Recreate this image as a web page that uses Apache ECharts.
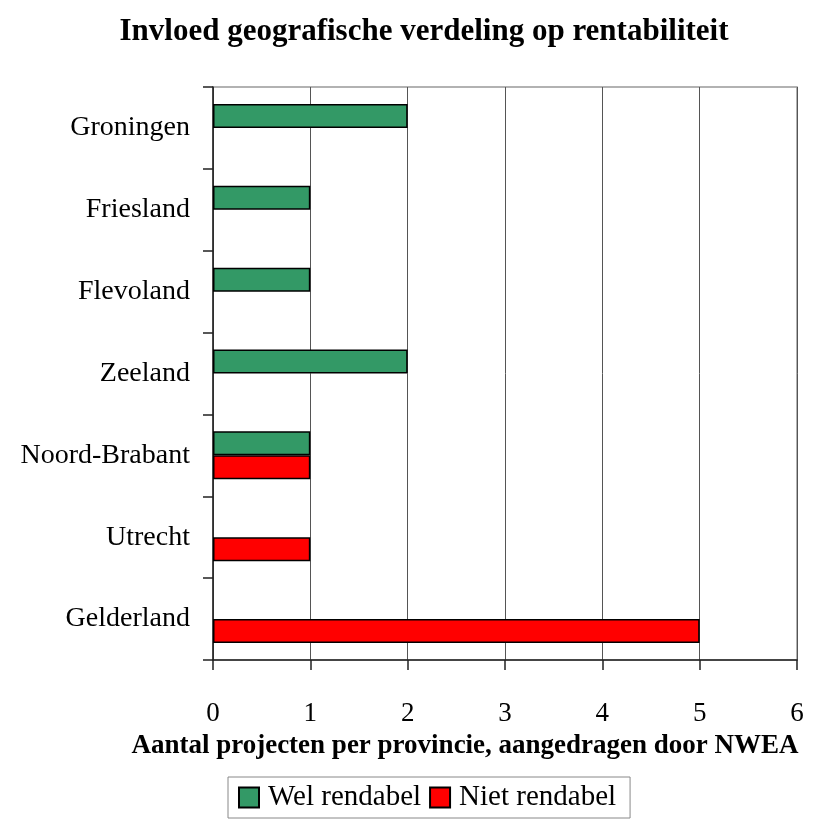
<!DOCTYPE html>
<html>
<head>
<meta charset="utf-8">
<script src="https://cdn.jsdelivr.net/npm/echarts@6/dist/echarts.min.js"></script>
<style>
  html, body { margin: 0; padding: 0; background: #fff; }
  #chart { width: 827px; height: 821px; }
</style>
</head>
<body>
<div id="chart"></div>
<script>
// Provinces, listed from the bottom of the chart upwards
var provinces = ['Gelderland', 'Utrecht', 'Noord-Brabant', 'Zeeland', 'Flevoland', 'Friesland', 'Groningen'];
// Number of projects per province
var welRendabel = [0, 0, 1, 2, 1, 1, 2];
var nietRendabel = [5, 1, 1, 0, 0, 0, 0];
var xTicks = [0, 1, 2, 3, 4, 5, 6];

var serif = '"Liberation Serif", "Times New Roman", serif';
var chart = echarts.init(document.getElementById('chart'));

var barStyle = function (color) {
  return { color: color, borderColor: '#000', borderWidth: 1.5 };
};
// Provinces without projects of a kind get no bar at all
var asBars = function (values) {
  return values.map(function (v) { return v === 0 ? '-' : v; });
};

chart.setOption({
  animation: false,
  backgroundColor: '#fff',
  title: {
    text: 'Invloed geografische verdeling op rentabiliteit',
    left: 419,
    textAlign: 'center',
    top: 11,
    textStyle: { fontFamily: serif, fontWeight: 'bold', fontSize: 31, color: '#000' }
  },
  grid: {
    left: 213, right: 30, top: 87, bottom: 161,
    outerBoundsMode: 'none',
    containLabel: false,
    show: true, borderColor: '#999', borderWidth: 1.5, backgroundColor: 'transparent'
  },
  legend: {
    bottom: 3,
    left: 228,
    itemWidth: 20,
    itemHeight: 20,
    itemGap: 8,
    padding: [6, 14, 6, 10],
    borderColor: '#888',
    borderWidth: 1,
    icon: 'rect',
    textStyle: { fontFamily: serif, fontSize: 29, color: '#000', padding: [0, 0, 0, 4] },
    data: ['Wel rendabel', 'Niet rendabel']
  },
  xAxis: {
    type: 'value',
    min: xTicks[0],
    max: xTicks[xTicks.length - 1],
    interval: 1,
    name: 'Aantal projecten per provincie, aangedragen door NWEA',
    nameLocation: 'middle',
    nameGap: 73,
    nameTextStyle: { fontFamily: serif, fontWeight: 'bold', fontSize: 27, color: '#000', padding: [0, 80, 0, 0] },
    axisLine: { show: true, lineStyle: { color: '#222', width: 1.5 } },
    axisTick: { show: true, length: 10, lineStyle: { color: '#222', width: 1.5 } },
    axisLabel: { margin: 40, fontFamily: serif, fontSize: 27, color: '#000' },
    splitLine: { show: true, lineStyle: { color: '#555', width: 1 } }
  },
  yAxis: {
    type: 'category',
    data: provinces,
    axisLine: { show: true, lineStyle: { color: '#222', width: 1.5 } },
    axisTick: { show: true, length: 10, lineStyle: { color: '#222', width: 1.5 } },
    axisLabel: { margin: 23, fontFamily: serif, fontSize: 28, color: '#000', padding: [5, 0, 0, 0] },
    splitLine: { show: false }
  },
  series: [
    {
      name: 'Wel rendabel',
      type: 'bar',
      data: asBars(welRendabel),
      barWidth: 24,
      barGap: '0%',
      itemStyle: barStyle('#339966')
    },
    {
      name: 'Niet rendabel',
      type: 'bar',
      data: asBars(nietRendabel),
      barWidth: 24,
      barGap: '0%',
      itemStyle: barStyle('#ff0000')
    }
  ]
});
</script>
</body>
</html>
